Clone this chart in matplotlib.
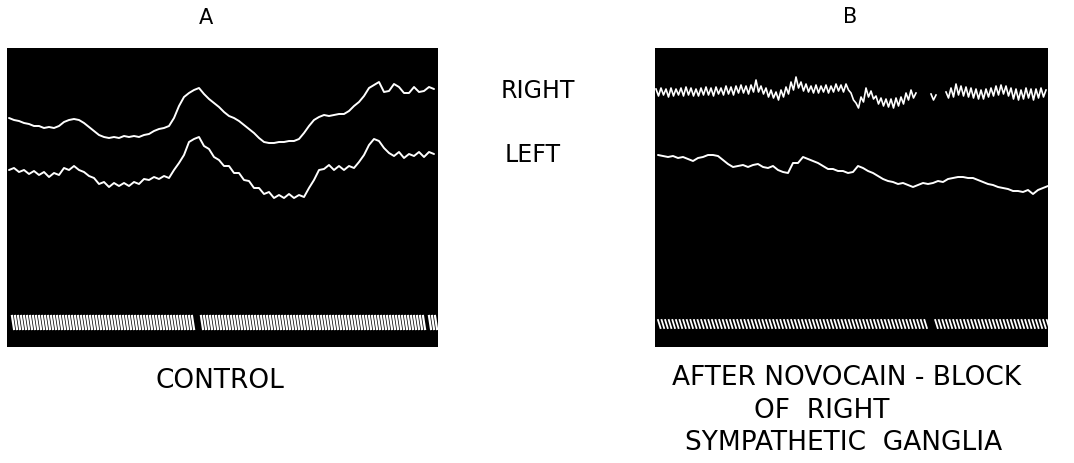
import numpy as np
import matplotlib
matplotlib.use("Agg")
import matplotlib.pyplot as plt

# ---- data (time / deflection in picture units) ----
# panel A (control), sampled every 5 units from t = 9
a_t0, a_dt = 9, 5
a_right = [118, 120, 121, 123, 124, 126, 126, 128, 127, 128,
           126, 122, 120, 119, 120, 123, 127, 131, 135, 137,
           138, 137, 138, 136, 137, 136, 137, 135, 134, 131,
           129, 128, 126, 118, 106, 97, 93, 90, 88, 94,
           99, 103, 107, 112, 116, 118, 121, 125, 129, 133,
           138, 142, 143, 143, 142, 142, 141, 141, 139, 133,
           126, 120, 117, 115, 116, 115, 114, 114, 111, 106,
           102, 96, 88, 85, 82, 92, 91, 84, 87, 93,
           93, 87, 92, 91, 87, 89]
a_left = [170, 168, 172, 170, 174, 171, 175, 172, 177, 173,
          175, 168, 170, 166, 170, 172, 176, 178, 184, 182,
          187, 183, 186, 183, 186, 182, 184, 179, 180, 177,
          179, 176, 178, 170, 163, 155, 142, 139, 137, 146,
          149, 157, 160, 166, 166, 173, 173, 180, 181, 188,
          188, 194, 192, 198, 195, 198, 194, 198, 195, 197,
          188, 180, 170, 169, 165, 170, 166, 170, 166, 168,
          162, 155, 145, 139, 141, 148, 153, 156, 152, 158,
          154, 156, 152, 157, 152, 154]

# panel B (after block), right side sampled every 2.5 units from t = 656
b_right_t0, b_right_dt = 656, 2.5
nan = np.nan
b_right = [89, 96, 88, 95, 89, 97, 88, 96, 89, 95, 88, 96, 87, 95, 88, 96, 89, 96, 88, 95,
           87, 95, 88, 96, 87, 94, 88, 95, 86, 94, 87, 95, 86, 93, 85, 93, 86, 94, 85, 92,
           80, 92, 86, 94, 88, 97, 90, 98,
           92, 100, 90, 97, 87, 94, 82, 90,
           77, 88, 82, 91, 84, 92, 86, 93,
           85, 93, 86, 92, 85, 93, 86, 92, 84, 91, 85, 92, 84, 90,
           93, 100, 103, 108, 97, 102,
           88, 97, 91, 99, 96, 104,
           98, 106, 99, 107, 99, 108, 98, 106, 97, 104, 93, 100,
           90, 98, 93,
           nan, nan, nan, nan, nan,
           94, 100, 95,
           nan, nan, nan, 92,
           98, 88, 97, 84, 95, 86, 96, 87, 97, 88, 98, 89,
           99, 90, 99, 89, 97, 88, 96, 86, 95, 85, 94, 86,
           96, 88, 99, 89, 100, 90, 99, 88, 98, 89, 100, 89, 98, 88, 97, 90]
# panel B left side sampled every 5 units from t = 658
b_left_t0, b_left_dt = 658, 5
b_left = [155, 156, 157, 156, 158, 157, 159, 161, 158, 157,
          155, 155, 156, 160, 164, 167, 166, 165, 167, 165,
          164, 167, 168, 166, 170, 172, 173, 163, 163, 157,
          159, 161, 163, 166, 169, 169, 171, 171, 173, 172,
          166, 168, 171, 173, 176, 179, 181, 182, 184, 183,
          185, 187, 185, 183, 184, 183, 181, 182, 179, 178,
          177, 177, 178, 178, 180, 182, 184, 185, 187, 188,
          189, 191, 191, 192, 190, 194, 190, 188, 186]

# time-marker (clock) ticks
timer_a = dict(start=12, stop=436, period=3.0, gaps=[(193, 198), (424, 428)], y=(316, 329))
timer_b = dict(start=658, stop=1047, period=3.6, gaps=[(928, 934)], y=(320, 328))

labels_top = ["A", "B"]
caption_a = "CONTROL"
caption_b = ["AFTER NOVOCAIN - BLOCK", "OF  RIGHT", "SYMPATHETIC  GANGLIA"]
side_labels = ["RIGHT", "LEFT"]


def series_t(t0, dt, values):
    return t0 + dt * np.arange(len(values))


def timer_path(spec, slant):
    ticks = np.arange(spec["start"], spec["stop"], spec["period"])
    for g0, g1 in spec["gaps"]:
        ticks = ticks[(ticks < g0) | (ticks > g1)]
    xs, ys = [], []
    for t in ticks:
        xs += [t, t + slant, np.nan]
        ys += [spec["y"][0], spec["y"][1], np.nan]
    return xs, ys


W, H = 1074, 463
fig = plt.figure(figsize=(W / 100, H / 100), dpi=100)
fig.patch.set_facecolor("white")


def px_axes(x0, x1, y0, y1):
    ax = fig.add_axes([x0 / W, 1 - y1 / H, (x1 - x0) / W, (y1 - y0) / H])
    ax.set_facecolor("black")
    ax.set_xlim(x0, x1)
    ax.set_ylim(y1, y0)
    ax.set_xticks([])
    ax.set_yticks([])
    for s in ax.spines.values():
        s.set_visible(False)
    return ax


ax_a = px_axes(7, 438, 48, 347)
ax_b = px_axes(655, 1048, 48, 347)

trace_kw = dict(color="white", lw=1.4, solid_joinstyle="round", solid_capstyle="round")
ax_a.plot(series_t(a_t0, a_dt, a_right), a_right, **trace_kw)
ax_a.plot(series_t(a_t0, a_dt, a_left), a_left, **trace_kw)
tx, ty = timer_path(timer_a, 2.0)
ax_a.plot(tx, ty, color="white", lw=1.6)

ax_b.plot(series_t(b_right_t0, b_right_dt, b_right), b_right, color="white", lw=1.2)
ax_b.plot(series_t(b_left_t0, b_left_dt, b_left), b_left, **trace_kw)
tx, ty = timer_path(timer_b, 2.5)
ax_b.plot(tx, ty, color="white", lw=1.3)

# ---- lettering ----
txt = dict(family="DejaVu Sans", color="black", ha="center", va="center")
fig.text(206 / W, 1 - 18 / H, labels_top[0], fontsize=15, **txt)
fig.text(850 / W, 1 - 17 / H, labels_top[1], fontsize=15, **txt)
fig.text(538 / W, 1 - 91 / H, side_labels[0], fontsize=17, **txt)
fig.text(533 / W, 1 - 155 / H, side_labels[1], fontsize=17, **txt)
fig.text(220 / W, 1 - 381 / H, caption_a, fontsize=19, **txt)
for (cx, cy), line in zip([(847, 378), (822, 411), (844, 443)], caption_b):
    fig.text(cx / W, 1 - cy / H, line, fontsize=19, **txt)

fig.savefig("out.png", dpi=100, facecolor="white")
